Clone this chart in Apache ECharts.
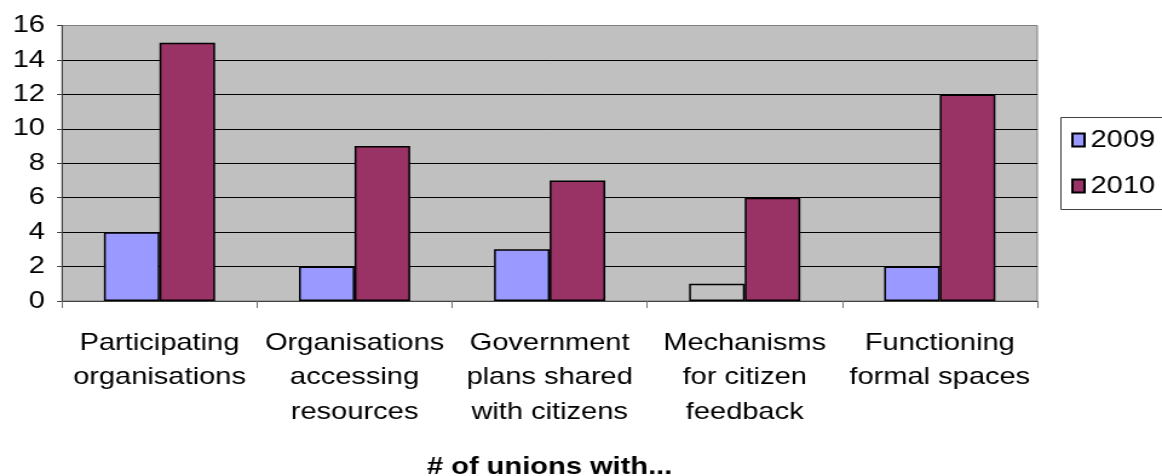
<!DOCTYPE html>
<html>
<head>
<meta charset="utf-8">
<script src="https://cdn.jsdelivr.net/npm/echarts@6/dist/echarts.min.js"></script>
<style>
  html, body { margin: 0; padding: 0; background: #fff; overflow: hidden; }
  /* Chart is laid out narrower and stretched horizontally to the 1162px page */
  #chart { width: 960px; height: 476px; transform: scaleX(1.2104); transform-origin: 0 0; }
</style>
</head>
<body>
<div id="chart"></div>
<script>
const categories = [
  'Participating\norganisations',
  'Organisations\naccessing\nresources',
  'Government\nplans shared\nwith citizens',
  'Mechanisms\nfor citizen\nfeedback',
  'Functioning\nformal spaces'
];
const values2009 = [4, 2, 3, 1, 2];
const values2010 = [15, 9, 7, 6, 12];
const seriesNames = ['2009', '2010'];
const axisTitle = '# of unions with...';

const FONT = 'Liberation Sans, Arial, sans-serif';
const PLOT_BG = '#c0c0c0';

// The 2009 "feedback" bar is drawn unfilled (plot colour) with its outline only
const data2009 = values2009.map((v, i) => i === 3
  ? { value: v, itemStyle: { color: PLOT_BG } }
  : v);

const chart = echarts.init(document.getElementById('chart'), null, { renderer: 'canvas' });

chart.setOption({
  animation: false,
  backgroundColor: '#ffffff',
  textStyle: { fontFamily: FONT },
  grid: {
    left: 51.2, right: 960 - 857, top: 25.5, bottom: 175,
    outerBoundsMode: 'none',
    show: true, backgroundColor: PLOT_BG, borderColor: '#808080', borderWidth: 1
  },
  // Legend frame runs off the right edge of the page
  graphic: [{
    type: 'rect',
    shape: { x: 876.5, y: 117.5, width: 200, height: 92 },
    style: { fill: 'none', stroke: '#404040', lineWidth: 1 },
    silent: true
  }],
  legend: {
    orient: 'vertical',
    left: 876, top: 117,
    padding: [11, 10, 10, 9],
    itemWidth: 10, itemHeight: 13,
    itemGap: 22,
    icon: 'rect',
    textStyle: { fontFamily: FONT, fontSize: 24, color: '#000', lineHeight: 24 },
    data: seriesNames
  },
  xAxis: {
    type: 'category',
    data: categories,
    name: axisTitle,
    nameLocation: 'middle',
    nameGap: 166,
    nameTextStyle: { fontFamily: FONT, fontSize: 24, fontWeight: 'bold', color: '#000', verticalAlign: 'middle' },
    axisLine: { lineStyle: { color: '#404040', width: 1 } },
    axisTick: { show: true, length: 7, lineStyle: { color: '#707070' } },
    axisLabel: { fontFamily: FONT, fontSize: 24, color: '#000', lineHeight: 34.5, margin: 25, interval: 0 }
  },
  yAxis: {
    type: 'value',
    min: 0, max: 16, interval: 2,
    axisLine: { show: true, lineStyle: { color: '#404040', width: 1 } },
    axisTick: { show: true, length: 4, lineStyle: { color: '#404040' } },
    axisLabel: { fontFamily: FONT, fontSize: 24, color: '#000', margin: 14 },
    splitLine: { show: true, showMaxLine: false, lineStyle: { color: '#000', width: 1 } }
  },
  series: [
    {
      name: seriesNames[0], type: 'bar', data: data2009,
      barGap: '0%', barCategoryGap: '43%',
      itemStyle: { color: '#9999ff', borderColor: '#000', borderWidth: 1.5 }
    },
    {
      name: seriesNames[1], type: 'bar', data: values2010,
      barGap: '0%', barCategoryGap: '43%',
      itemStyle: { color: '#993366', borderColor: '#000', borderWidth: 1.5 }
    }
  ]
});
</script>
</body>
</html>
